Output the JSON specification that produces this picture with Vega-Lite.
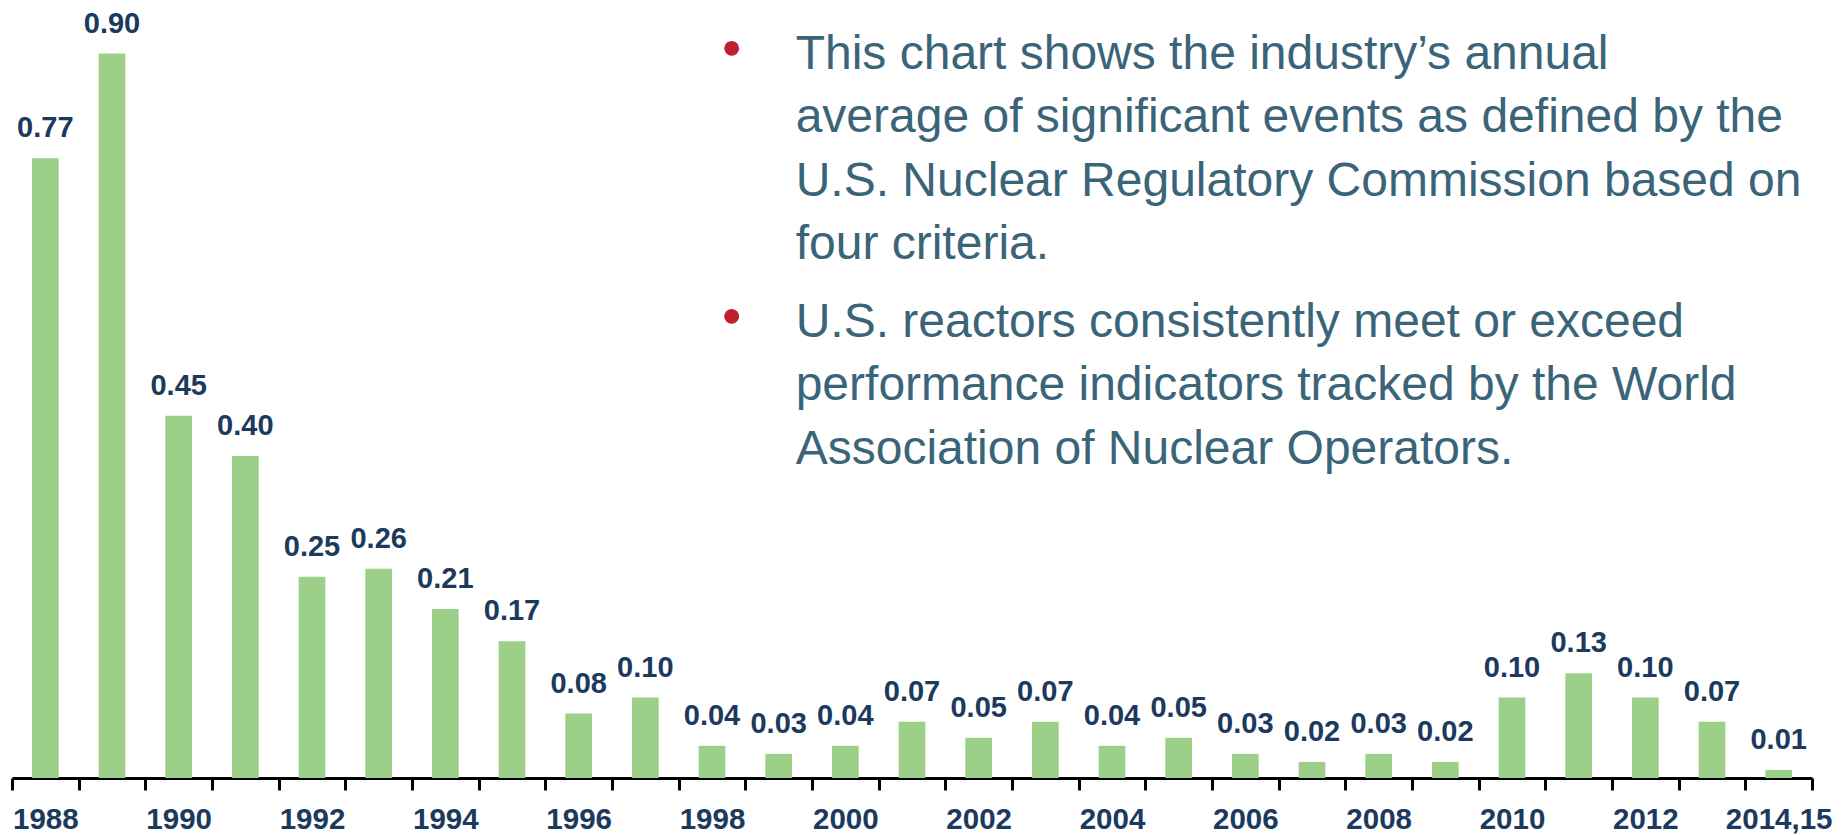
{
  "$schema": "https://vega.github.io/schema/vega-lite/v6.json",
  "autosize": {"type": "none"},
  "padding": {"left": 12, "top": 0, "right": 33, "bottom": 57},
  "width": 1800,
  "height": 778,
  "background": "white",
  "config": {"view": {"stroke": null}},
  "layer": [
    {
      "data": {"values": [
        {"year": "1988", "value": 0.77},
        {"year": "1989", "value": 0.90},
        {"year": "1990", "value": 0.45},
        {"year": "1991", "value": 0.40},
        {"year": "1992", "value": 0.25},
        {"year": "1993", "value": 0.26},
        {"year": "1994", "value": 0.21},
        {"year": "1995", "value": 0.17},
        {"year": "1996", "value": 0.08},
        {"year": "1997", "value": 0.10},
        {"year": "1998", "value": 0.04},
        {"year": "1999", "value": 0.03},
        {"year": "2000", "value": 0.04},
        {"year": "2001", "value": 0.07},
        {"year": "2002", "value": 0.05},
        {"year": "2003", "value": 0.07},
        {"year": "2004", "value": 0.04},
        {"year": "2005", "value": 0.05},
        {"year": "2006", "value": 0.03},
        {"year": "2007", "value": 0.02},
        {"year": "2008", "value": 0.03},
        {"year": "2009", "value": 0.02},
        {"year": "2010", "value": 0.10},
        {"year": "2011", "value": 0.13},
        {"year": "2012", "value": 0.10},
        {"year": "2013", "value": 0.07},
        {"year": "2014,15", "value": 0.01}
      ]},
      "encoding": {
        "x": {
          "field": "year",
          "type": "nominal",
          "sort": null,
          "scale": {"paddingInner": 0, "paddingOuter": 0},
          "axis": {
            "title": null,
            "domainColor": "#000000",
            "domainWidth": 3,
            "tickColor": "#000000",
            "tickWidth": 3,
            "tickSize": 12,
            "tickBand": "extent",
            "labelPadding": 15,
            "labelAngle": 0,
            "labelFont": "Liberation Sans",
            "labelFontWeight": "bold",
            "labelFontSize": 29.5,
            "labelColor": "#1c3a5e",
            "labelExpr": "indexof(['1988','1990','1992','1994','1996','1998','2000','2002','2004','2006','2008','2010','2012','2014,15'], datum.value) >= 0 ? datum.label : ''"
          }
        },
        "y": {
          "field": "value",
          "type": "quantitative",
          "scale": {"domain": [0, 0.9665], "nice": false},
          "axis": null
        }
      },
      "layer": [
        {"mark": {"type": "bar", "color": "#9ccf88", "width": {"band": 0.4}}},
        {
          "mark": {"type": "text", "baseline": "alphabetic", "align": "center", "dy": -21, "font": "Liberation Sans", "fontWeight": "bold", "fontSize": 29, "color": "#1c3a5e"},
          "encoding": {"text": {"field": "value", "type": "quantitative", "format": ".2f"}}
        }
      ]
    },
    {
      "data": {"values": [
        {"year": "1999", "value": 0.881, "lines": ["This chart shows the industry’s annual", "average of significant events as defined by the", "U.S. Nuclear Regulatory Commission based on", "four criteria."]},
        {"year": "1999", "value": 0.548, "lines": ["U.S. reactors consistently meet or exceed", "performance indicators tracked by the World", "Association of Nuclear Operators."]}
      ]},
      "encoding": {
        "x": {"field": "year", "type": "nominal", "sort": null},
        "y": {"field": "value", "type": "quantitative"}
      },
      "layer": [
        {
          "mark": {"type": "circle", "color": "#c01f2f", "size": 220, "opacity": 1, "xOffset": -47, "yOffset": -20.5}
        },
        {
          "mark": {"type": "text", "align": "left", "baseline": "alphabetic", "dx": 17, "lineHeight": 63.5, "font": "Liberation Sans", "fontSize": 48, "color": "#3a6579"},
          "encoding": {"text": {"field": "lines"}}
        }
      ]
    }
  ]
}
